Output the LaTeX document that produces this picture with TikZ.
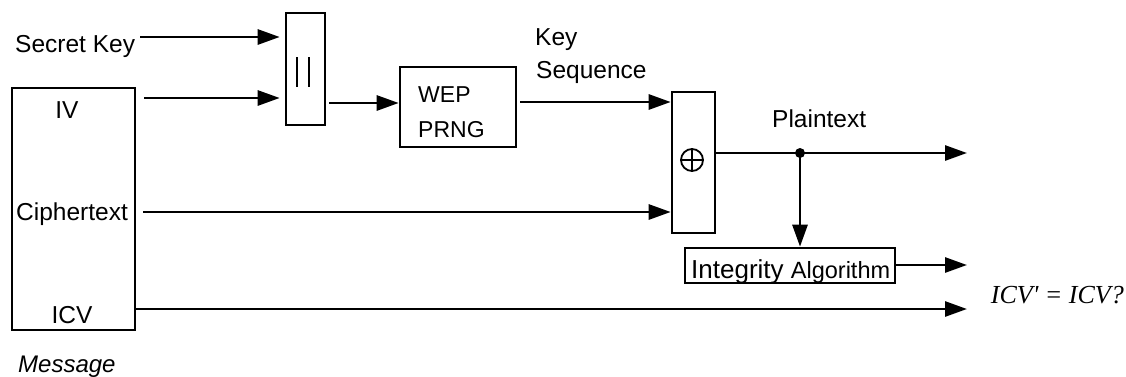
\documentclass[tikz,border=0pt]{standalone}
\usepackage{fontspec}
\setmainfont{Liberation Sans}
\newfontfamily\timesit{Liberation Serif}
\usetikzlibrary{arrows.meta}
\begin{document}
\begin{tikzpicture}[x=1pt,y=-1pt,
  box/.style={draw, line width=2.6pt, inner sep=0pt},
  conn/.style={line width=2.8pt, -{Triangle[length=22pt,width=15pt]}},
  lbl/.style={font=\fontsize{24.5}{28}\selectfont, inner sep=0pt},
  lblsm/.style={font=\fontsize{23}{27}\selectfont, inner sep=0pt}]
\useasboundingbox (0,0) rectangle (1126,376);

% boxes
\node[box, minimum width=123pt, minimum height=242pt] (msg) at (73.5,209) {};
\node[box, minimum width=39pt, minimum height=112pt] (cat) at (305.5,69) {};
\node[box, minimum width=116pt, minimum height=80pt] (wep) at (458,107) {};
\node[box, minimum width=43pt, minimum height=141pt] (xor) at (693.5,162.5) {};
\node[box, minimum width=210pt, minimum height=35pt] (integ) at (790,265.5) {};

% concatenation bars
\draw[line width=1.8pt] (297,57) -- (297,87) (309,57) -- (309,87);

% xor symbol
\node[circle, draw, line width=1.8pt, inner sep=0pt, minimum size=22pt] (plus) at (692,160) {};
\draw[line width=1.8pt] (plus.north) -- (plus.south) (plus.west) -- (plus.east);

% texts
\node[lbl, anchor=base west] (sk) at (15,52) {Secret Key};
\node[lbl, anchor=base] (iv) at (67,118) {IV};
\node[lbl, anchor=base] (ct) at (72,220) {Ciphertext};
\node[lbl, anchor=base] (icv) at (72,323) {ICV};
\node[lbl, anchor=base west, font=\fontsize{24}{28}\selectfont\itshape] (msgl) at (18,372) {Message};
\node[lblsm, anchor=base west] (wept) at (418,102) {WEP};
\node[lblsm, anchor=base west] (prng) at (418,137) {PRNG};
\node[lbl, anchor=base west] (key) at (535,45) {Key};
\node[lbl, anchor=base west] (seq) at (536,78) {Sequence};
\node[lbl, anchor=base west] (pt) at (772,127) {Plaintext};
\node[inner sep=0pt, anchor=base west] (intt) at (691,278)
  {\fontsize{26}{28}\selectfont Integrity \fontsize{23.5}{28}\selectfont Algorithm};
\node[inner sep=0pt, anchor=base east, font=\timesit\itshape\fontsize{26}{28}\selectfont] (eq) at (1124,303)
  {ICV\textquotesingle\ = ICV?};

% free ends
\coordinate (pend) at (967,153);
\coordinate (iend) at (967,265);
\coordinate (vend) at (967,309);

% connectors
\draw[conn, shorten >=5pt] ([xshift=5pt]sk.east |- 0,37) -- (cat.west |- 0,37);
\draw[conn, shorten >=5pt] ([xshift=8pt]msg.east |- 0,98) -- (cat.west |- 0,98);
\draw[conn] ([xshift=3pt]cat.east |- 0,103) -- (wep.west |- 0,103);
\draw[conn] ([xshift=3pt]wep.east |- 0,102) -- (xor.west |- 0,102);
\draw[conn] ([xshift=7pt]msg.east |- 0,212) -- (xor.west |- 0,212);
\draw[conn] (xor.east |- pend) -- (pend);
\node[circle, fill, inner sep=0pt, minimum size=10pt] (dot) at (800,153) {};
\draw[conn] (dot.center) -- (dot |- integ.north);
\draw[conn] (integ.east |- iend) -- (iend);
\draw[conn] (msg.east |- vend) -- (vend);
\end{tikzpicture}
\end{document}
